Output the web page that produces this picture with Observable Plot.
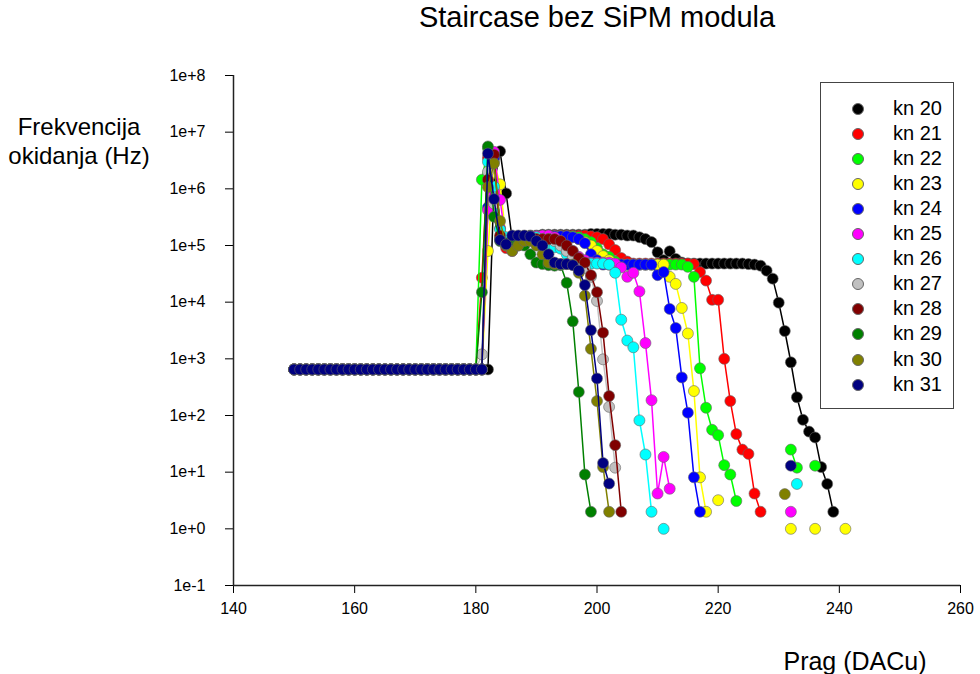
<!DOCTYPE html>
<html><head><meta charset="utf-8">
<script src="https://cdn.jsdelivr.net/npm/d3@7"></script>
<script src="https://cdn.jsdelivr.net/npm/@observablehq/plot@0.6"></script>
<style>
body{margin:0;background:#fff;font-family:Arial,"Liberation Sans",sans-serif;color:#000;}
#wrap{position:relative;width:980px;height:674px;overflow:hidden;}
#wrap svg{position:absolute;left:0;top:0;}
.t{position:absolute;white-space:nowrap;}
#title{left:597px;top:1px;transform:translateX(-50%);font-size:29px;}
#ylab{left:79px;top:112px;transform:translateX(-50%);font-size:24px;text-align:center;line-height:29px;}
#xlab{left:855px;top:647px;transform:translateX(-50%);font-size:25px;}
#legend{position:absolute;left:820px;top:82px;width:132px;height:325px;border:1.5px solid #444;background:#fff;}
.li{position:absolute;left:0;height:25px;width:132px;}
.ld{position:absolute;left:31px;top:7px;width:10px;height:10px;border-radius:50%;border:0.6px solid #666;}
.lt{position:absolute;left:72px;top:0;font-size:20px;line-height:25px;}
</style></head>
<body><div id="wrap">
<div class="t" id="title">Staircase bez SiPM modula</div>
<div class="t" id="ylab">Frekvencija<br>okidanja (Hz)</div>
<div class="t" id="xlab">Prag (DACu)</div>
<div id="legend"></div>
</div>
<script>
const xTicks = [140, 160, 180, 200, 220, 240, 260];
const yTicks = [1e-1, 1e0, 1e1, 1e2, 1e3, 1e4, 1e5, 1e6, 1e7, 1e8];
const seriesNames = ["kn 20","kn 21","kn 22","kn 23","kn 24","kn 25","kn 26","kn 27","kn 28","kn 29","kn 30","kn 31"];
const seriesColors = ["#000000","#ff0000","#00ff00","#ffff00","#0000ff","#ff00ff","#00ffff","#c0c0c0","#800000","#008000","#808000","#000080"];
const baseStart = 150; // first threshold of the shared baseline
// shared baseline (150..180), identical for all channels
const baseFreq = [650,650,650,650,650,650,650,650,650,650,
                  650,650,650,650,650,650,650,650,650,650,
                  650,650,650,650,650,650,650,650,650,650,650];
// per-channel values from threshold 181 onward (null = no counts)
const kn20 = [650,650,1.2e6,4.6e6,8.3e5,1.3e5,1.4e5,1.45e5,1.5e5,1.5e5,
  1.55e5,1.55e5,1.55e5,1.55e5,1.55e5,1.55e5,1.55e5,1.55e5,1.6e5,1.6e5,
  1.6e5,1.6e5,1.55e5,1.55e5,1.5e5,1.5e5,1.4e5,1.3e5,1.15e5,7.6e4,
  5.5e4,7.9e4,5.8e4,5e4,4.8e4,4.8e4,4.8e4,4.8e4,4.8e4,4.8e4,
  4.8e4,4.8e4,4.8e4,4.8e4,4.7e4,4.6e4,4.4e4,3.6e4,2.6e4,9.8e3,
  3.1e3,870,210,84,52,41,12.3,6.2,2];
const kn21 = [2.7e4,3.5e6,9e5,1.3e5,9e4,1.1e5,1.3e5,1.45e5,1.45e5,1.45e5,
  1.45e5,1.5e5,1.5e5,1.5e5,1.5e5,1.5e5,1.5e5,1.5e5,1.45e5,1.4e5,
  1.3e5,1.05e5,8.3e4,6e4,5.2e4,4.8e4,4.8e4,4.8e4,4.8e4,4.8e4,
  4.8e4,4.8e4,4.8e4,4.8e4,4.8e4,4.7e4,3.4e4,2.4e4,1.1e4,1.1e4,
  1e3,180,47,25,21,4.2,2];
const kn22 = [1.45e6,5.2e6,4e5,1.4e5,1.2e5,1.3e5,1.4e5,1.45e5,1.45e5,1.45e5,
  1.45e5,1.45e5,1.45e5,1.45e5,1.45e5,1.45e5,1.4e5,1.3e5,1.15e5,9e4,
  7e4,6.3e4,5.2e4,4.6e4,4.6e4,4.6e4,4.6e4,4.6e4,4.6e4,4.6e4,
  4.6e4,4.6e4,4.6e4,4.6e4,4.2e4,2.8e4,680,137,56,45,
  13.3,9.1,3.1,null,null,null,null,null,null,null,
  null,25,12,null,null,13];
const kn23 = [650,8e4,3e6,1.2e6,1.3e5,9e4,1.2e5,1.45e5,1.45e5,1.45e5,
  1.45e5,1.45e5,1.45e5,1.45e5,1.45e5,1.4e5,1.3e5,1.15e5,1e5,8e4,
  6.5e4,5.5e4,4.6e4,4.6e4,4.6e4,4.6e4,4.6e4,4.6e4,4.6e4,4.6e4,
  4.6e4,2.8e4,2.1e4,7.9e3,2.8e3,270,8.1,2,null,3.2,
  null,null,null,null,null,null,null,null,null,null,
  null,1,null,null,null,1,null,null,null,null,1];
const kn24 = [650,4.7e5,3.5e6,2e5,1.2e5,1.3e5,1.45e5,1.45e5,1.45e5,1.45e5,
  1.45e5,1.45e5,1.45e5,1.45e5,1.45e5,1.4e5,1.3e5,1.1e5,7e4,5.5e4,
  4.6e4,4.6e4,4.6e4,4.6e4,4.6e4,4.6e4,4.6e4,4.6e4,4.6e4,3e4,
  3.4e4,7.6e3,3.5e3,470,112,8.1,2];
const kn25 = [650,4.2e5,4.5e6,6.4e5,1.1e5,8e4,1e5,1.3e5,1.4e5,1.45e5,
  1.5e5,1.5e5,1.4e5,1.2e5,9.3e4,8e4,6.3e4,5.5e4,5e4,5e4,
  5e4,5e4,4.8e4,4.1e4,2.8e4,3.3e4,1.55e4,1.9e3,186,4.2,
  18.6,5.1,null,null,null,null,null,null,null,null,
  null,null,null,null,null,null,null,null,null,null,
  null,2];
const kn26 = [650,3e6,1.1e6,1.9e5,1.4e5,1.2e5,1.3e5,1.3e5,1.35e5,1.4e5,
  1.2e5,9.5e4,9.3e4,8.8e4,7e4,5.5e4,4.8e4,4.8e4,4.8e4,4.8e4,
  4.8e4,4.6e4,3.3e4,4.9e3,2.1e3,1.6e3,82,20.5,2,null,
  1,null,null,null,null,null,null,null,null,null,
  null,null,null,null,null,null,null,null,null,null,
  null,null,6.2];
const kn27 = [1.2e3,2e6,5.5e5,1.3e5,1e5,1.1e5,1.3e5,1.3e5,1.3e5,1.3e5,
  1.3e5,1.3e5,1.2e5,1e5,8e4,6e4,4.8e4,4e4,2.8e4,1.05e4,
  980,142,12];
const kn28 = [650,1.45e6,4e6,1.5e5,1e5,1.1e5,1.3e5,1.3e5,1.3e5,1.3e5,
  1.3e5,1.3e5,1.3e5,1.2e5,1e5,8e4,6e4,5e4,3e4,1.5e4,
  2.9e3,220,30,2];
const kn29 = [1.5e4,5.6e6,3.2e5,1.2e5,1.1e5,1.2e5,1.1e5,1e5,7e4,5e4,
  4.7e4,4.5e4,4.4e4,4.5e4,2.2e4,4.6e3,260,9.1,2];
const kn30 = [650,1.07e6,2.8e6,2.7e5,1e5,8e4,1e5,1.2e5,1.2e5,1e5,
  7e4,5e4,4.7e4,4.7e4,4.7e4,4.6e4,3.3e4,1.3e4,1.5e3,180,
  12.3,2,null,null,null,null,null,null,null,null,
  null,null,null,null,null,null,null,null,null,null,
  null,null,null,null,null,null,null,null,null,null,
  4.1];
const kn31 = [650,4.2e6,6.6e5,1.25e5,1.05e5,1.5e5,1.5e5,1.5e5,1.45e5,1.2e5,
  1e5,7e4,5e4,4.7e4,4.7e4,4.5e4,3.6e4,2e4,3.2e3,450,
  14.5,6.3,null,null,null,null,null,null,null,null,
  null,null,null,null,null,null,null,null,null,null,
  null,null,null,null,null,null,null,null,null,null,
  null,13];
const seriesVals = [kn20,kn21,kn22,kn23,kn24,kn25,kn26,kn27,kn28,kn29,kn30,kn31];

const tables = seriesNames.map((name, k) =>
  baseFreq.concat(seriesVals[k]).map((v, i) => ({name, x: baseStart + i, y: v})));

const fmt = d => { const e = Math.round(Math.log10(d)); return "1e" + (e < 0 ? "-" : "+") + Math.abs(e); };

const seriesMarks = [];
tables.forEach((t, k) => {
  seriesMarks.push(Plot.line(t, {x: "x", y: "y", stroke: seriesColors[k], strokeWidth: 1.5}));
  seriesMarks.push(Plot.dot(t.filter(d => d.y != null), {x: "x", y: "y", r: 5.5, fill: seriesColors[k], stroke: "#666", strokeWidth: 0.6}));
});

const chart = Plot.plot({
  width: 980, height: 674,
  marginLeft: 233, marginRight: 20, marginTop: 75, marginBottom: 89,
  style: {fontFamily: "Arial, 'Liberation Sans', sans-serif", fontSize: "16px", color: "#000", background: "transparent"},
  x: {domain: [140, 260], ticks: xTicks, tickSize: 8, tickPadding: 9, label: null},
  y: {type: "log", domain: [0.1, 1e8], ticks: yTicks, tickFormat: fmt, tickSize: 8, tickPadding: 20, label: null},
  marks: [
    ...seriesMarks,
    Plot.ruleX([140], {stroke: "#222", strokeWidth: 1.5}),
    Plot.ruleY([0.1], {stroke: "#222", strokeWidth: 1.5})
  ]
});
const wrap = document.getElementById("wrap");
wrap.insertBefore(chart, wrap.firstChild);

const legend = document.getElementById("legend");
seriesNames.forEach((name, k) => {
  const row = document.createElement("div");
  row.className = "li";
  row.style.top = (12.5 + 25.1 * k) + "px";
  row.innerHTML = `<div class="ld" style="background:${seriesColors[k]}"></div><div class="lt">${name}</div>`;
  legend.appendChild(row);
});
</script>
</body></html>
